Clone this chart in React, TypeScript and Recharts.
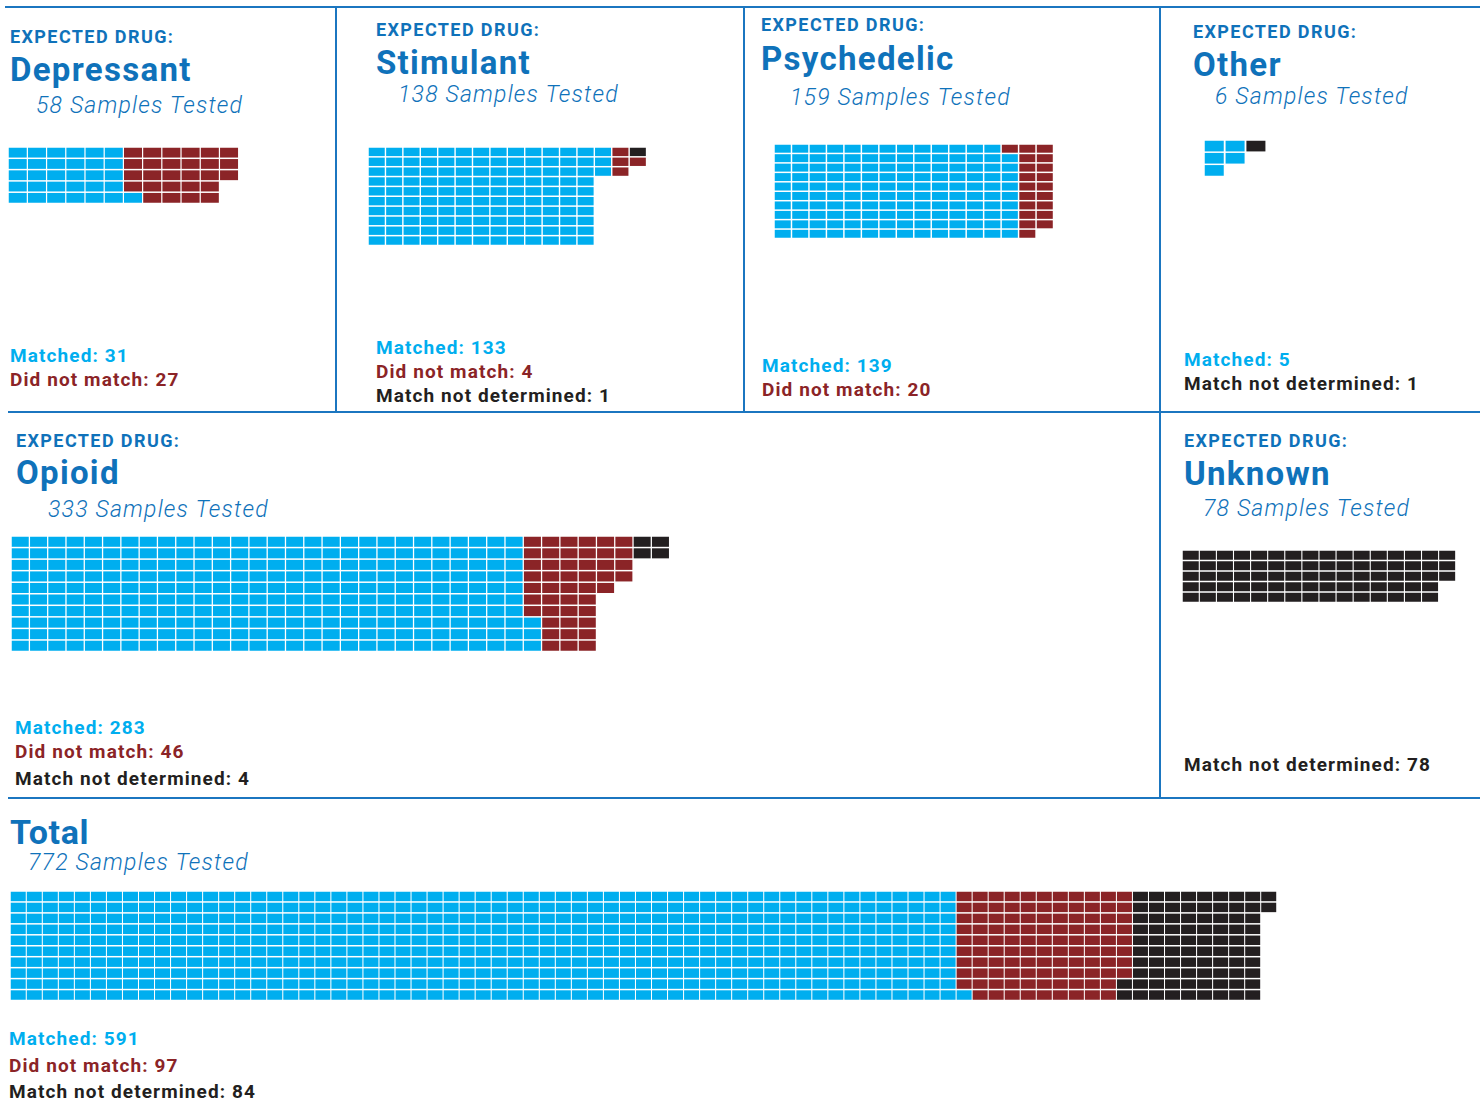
import React from 'react';
import { BarChart, Bar, XAxis, YAxis } from 'recharts';

const MATCHED = '#00aeef';
const NOT_MATCHED = '#8b2427';
const UNDETERMINED = '#231f20';
const TITLE_BLUE = '#0f72ba';
const RULE_BLUE = '#1b76c0';
const FONT = 'Roboto, "Noto Sans", sans-serif';

// per expected drug
const drugs = ['Depressant', 'Stimulant', 'Psychedelic', 'Other', 'Opioid', 'Unknown'];
const samplesTested = [58, 138, 159, 6, 333, 78];
const matched = [31, 133, 139, 5, 283, 0];
const didNotMatch = [27, 4, 20, 0, 46, 0];
const notDetermined = [0, 1, 0, 1, 4, 78];

const totalTested = 772;
const totalMatched = 591;
const totalDidNotMatch = 97;
const totalNotDetermined = 84;

// waffle columns read left to right, cells top to bottom
// M = matched, N = did not match, U = not determined; [column, how many times]
const depressantColumns: [string, number][] = [['MMMMM', 6], ['NNNNM', 1], ['NNNNN', 4], ['NNN', 1]];
const stimulantColumns: [string, number][] = [['MMMMMMMMMM', 13], ['MMM', 1], ['NNN', 1], ['UN', 1]];
const psychedelicColumns: [string, number][] = [['MMMMMMMMMM', 13], ['NMMMMMMMMM', 1], ['NNNNNNNNNN', 1], ['NNNNNNNNN', 1]];
const otherColumns: [string, number][] = [['MMM', 1], ['MM', 1], ['U', 1]];
const opioidColumns: [string, number][] = [['MMMMMMMMMM', 28], ['NNNNNNNMMM', 1], ['NNNNNNNNNN', 3], ['NNNNN', 1], ['NNNN', 1], ['UU', 2]];
const unknownColumns: [string, number][] = [['UUUUU', 15], ['UUU', 1]];
const totalColumns: [string, number][] = [['MMMMMMMMMM', 59], ['NNNNNNNNNM', 1], ['NNNNNNNNNN', 9], ['NNNNNNNNUU', 1], ['UUUUUUUUUU', 8], ['UU', 1]];

const panelColumns = [depressantColumns, stimulantColumns, psychedelicColumns, otherColumns, opioidColumns, unknownColumns];

const kindColor: Record<string, string> = { M: MATCHED, N: NOT_MATCHED, U: UNDETERMINED };

// where each panel sits on the page
const layout = [
  { hx: 10, hy: 43, ty: 81, sx: 36, sy: 113, stx: 10, sty: [362, 386], wx: 9, wy: 148, ww: 229, wh: 55, rows: 5 },
  { hx: 376, hy: 36, ty: 74, sx: 398, sy: 102, stx: 376, sty: [354, 378, 402], wx: 369, wy: 148, ww: 277, wh: 97, rows: 10 },
  { hx: 761, hy: 31, ty: 70, sx: 790, sy: 105, stx: 762, sty: [372, 396], wx: 775, wy: 145, ww: 278, wh: 93, rows: 10 },
  { hx: 1193, hy: 38, ty: 76, sx: 1215, sy: 104, stx: 1184, sty: [366, 390], wx: 1205, wy: 141, ww: 61, wh: 35, rows: 3 },
  { hx: 16, hy: 447, ty: 484, sx: 48, sy: 517, stx: 15, sty: [734, 758, 785], wx: 12, wy: 537, ww: 657, wh: 114, rows: 10 },
  { hx: 1184, hy: 447, ty: 485, sx: 1203, sy: 516, stx: 1184, sty: [771], wx: 1183, wy: 551, ww: 272, wh: 51, rows: 5 },
];

const totalLayout = { ty: 844, sx: 28, sy: 870, stx: 9, sty: [1045, 1072, 1098], wx: 11, wy: 892, ww: 1265, wh: 108, rows: 10 };

const cellShape = (props: any, row: number) => {
  const { x, y, width, height, payload } = props;
  const h = Math.abs(height);
  if (!h || !payload['k' + row]) return <g />;
  const top = Math.min(y, y + height);
  return (
    <rect x={x} y={top + 0.75} width={width} height={Math.max(h - 1.5, 0)} fill={kindColor[payload['k' + row]]} />
  );
};

function Waffle({ columns, rows, left, top, width, height }: {
  columns: [string, number][]; rows: number; left: number; top: number; width: number; height: number;
}) {
  const data = columns
    .flatMap(([pattern, n]) => Array.from({ length: n }, () => pattern))
    .map((pattern, i) => {
      const entry: Record<string, any> = { col: i };
      for (let r = 0; r < rows; r++) {
        entry['r' + r] = r < pattern.length ? 1 : 0;
        entry['k' + r] = pattern[r] ?? '';
      }
      return entry;
    });
  const rowIdx = Array.from({ length: rows }, (_, r) => r);

  return (
    <div style={{ position: 'absolute', left: left - 0.75, top: top - 0.75 }}>
      <BarChart
        width={width + 1.5}
        height={height + 1.5}
        data={data}
        margin={{ top: 0, right: 0, bottom: 0, left: 0 }}
        barCategoryGap={0.75}
      >
        <XAxis dataKey="col" type="category" hide />
        <YAxis type="number" domain={[0, rows]} reversed hide allowDataOverflow />
        {rowIdx.map((r) => (
          <Bar
            key={r}
            dataKey={'r' + r}
            stackId="w"
            isAnimationActive={false}
            shape={(p: any) => cellShape(p, r)}
          />
        ))}
      </BarChart>
    </div>
  );
}

function Stats({ x, ys, m, n, u }: { x: number; ys: number[]; m: number; n: number; u: number }) {
  const lines: { text: string; color: string }[] = [];
  if (m > 0) lines.push({ text: `Matched: ${m}`, color: MATCHED });
  if (n > 0) lines.push({ text: `Did not match: ${n}`, color: NOT_MATCHED });
  if (u > 0) lines.push({ text: `Match not determined: ${u}`, color: UNDETERMINED });
  return (
    <>
      {lines.map((l, i) => (
        <text key={i} x={x} y={ys[i]} fill={l.color} fontSize={19} fontWeight={700} letterSpacing={1.1} fontFamily={FONT}>
          {l.text}
        </text>
      ))}
    </>
  );
}

export default function App() {
  return (
    <div style={{ position: 'absolute', left: 0, top: 0, width: 1483, height: 1102, background: '#fff' }}>
      {drugs.map((d, i) => {
        const p = layout[i];
        return <Waffle key={d} columns={panelColumns[i]} rows={p.rows} left={p.wx} top={p.wy} width={p.ww} height={p.wh} />;
      })}
      <Waffle
        columns={totalColumns}
        rows={totalLayout.rows}
        left={totalLayout.wx}
        top={totalLayout.wy}
        width={totalLayout.ww}
        height={totalLayout.wh}
      />
      <svg width={1483} height={1102} style={{ position: 'absolute', left: 0, top: 0, pointerEvents: 'none' }}>
        <g stroke={RULE_BLUE} strokeWidth={2}>
          <line x1={5} y1={7} x2={1480} y2={7} />
          <line x1={336} y1={7} x2={336} y2={412} />
          <line x1={744} y1={7} x2={744} y2={412} />
          <line x1={1160} y1={7} x2={1160} y2={798} />
          <line x1={8} y1={412} x2={1480} y2={412} />
          <line x1={8} y1={798} x2={1480} y2={798} />
        </g>
        {drugs.map((d, i) => {
          const p = layout[i];
          return (
            <g key={d}>
              <text x={p.hx} y={p.hy} fill={TITLE_BLUE} fontSize={18} fontWeight={700} letterSpacing={1.4} fontFamily={FONT}>
                EXPECTED DRUG:
              </text>
              <text x={p.hx} y={p.ty} fill={TITLE_BLUE} fontSize={33} fontWeight={700} letterSpacing={1.3} fontFamily={FONT}>
                {d}
              </text>
              <text x={p.sx} y={p.sy} fill={TITLE_BLUE} fontSize={23} fontStyle="italic" fontWeight={300} letterSpacing={1.2} fontFamily={FONT}>
                {samplesTested[i]} Samples Tested
              </text>
              <Stats x={p.stx} ys={p.sty} m={matched[i]} n={didNotMatch[i]} u={notDetermined[i]} />
            </g>
          );
        })}
        <text x={10} y={totalLayout.ty} fill={TITLE_BLUE} fontSize={34} fontWeight={700} letterSpacing={0.6} fontFamily={FONT}>
          Total
        </text>
        <text x={totalLayout.sx} y={totalLayout.sy} fill={TITLE_BLUE} fontSize={23} fontStyle="italic" fontWeight={300} letterSpacing={1.2} fontFamily={FONT}>
          {totalTested} Samples Tested
        </text>
        <Stats x={totalLayout.stx} ys={totalLayout.sty} m={totalMatched} n={totalDidNotMatch} u={totalNotDetermined} />
      </svg>
    </div>
  );
}
